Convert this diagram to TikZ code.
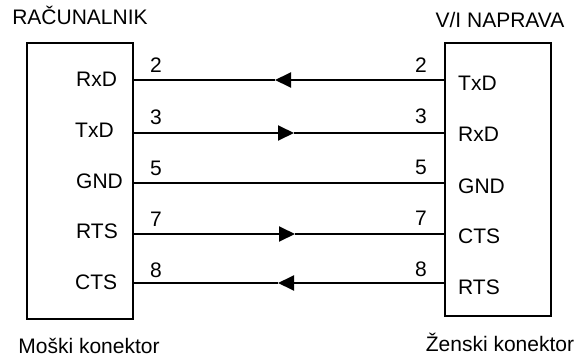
\documentclass[tikz,border=0pt]{standalone}
\usepackage{fontspec}
\setmainfont{Liberation Sans}
\usetikzlibrary{arrows.meta}
\tikzset{>={Triangle[length=16pt,width=15pt]}}
\tikzset{wire/.style={line width=1.9pt}}
\tikzset{box/.style={draw,line width=1.7pt,inner sep=0pt}}
\tikzset{lbl/.style={inner sep=0pt,anchor=base west}}
\tikzset{num/.style={inner sep=0pt,anchor=base}}
\begin{document}
\begin{tikzpicture}[x=1pt,y=-1pt,font=\fontsize{21}{24}\selectfont]
\useasboundingbox (0,0) rectangle (575,356);
\node[box,minimum width=106pt,minimum height=276pt] (pc) at (80,181) {};
\node[box,minimum width=106pt,minimum height=273pt] (dev) at (498,179.5) {};
\node[inner sep=0pt,anchor=base] (pcname) at (80,24.5) {RAČUNALNIK};
\node[inner sep=0pt,anchor=base] (devname) at (500,27.5) {V/I NAPRAVA};
\node[inner sep=0pt,anchor=base] (male) at (89,353) {Moški konektor};
\node[inner sep=0pt,anchor=base] (female) at (500,351) {Ženski konektor};
% left and right pin labels
\foreach \x/\y/\t in {76/86.5/RxD,75/137.5/TxD,76/188.5/GND,76/238.5/RTS,75/289.5/CTS}
\node[lbl] (l\t) at (\x,\y) {\t};
\foreach \x/\y/\t in {458/90.5/TxD,458/141.5/RxD,458/193.5/GND,458/243.5/CTS,458/294.5/RTS}
\node[lbl] (r\t) at (\x,\y) {\t};
% wires
\foreach \n/\y/\ln/\rn in {2/80/72/72,3/133/124/123,5/183/175/174,7/234/226/225,8/283/277/276} {
\coordinate (a\n) at (pc.east |- 0,\y);
\coordinate (b\n) at (dev.west |- 0,\y);
\node[num] (la\n) at (156,\ln) {\n};
\node[num] (ra\n) at (421,\rn) {\n};
}
\coordinate (m2) at (275,80);
\coordinate (m3) at (294,133);
\coordinate (m7) at (295,234);
\coordinate (m8) at (278,283);
\draw[wire] (a5) -- (b5);
\draw[wire,->] (b2) -- (m2);
\draw[wire] (m2) -- (a2);
\draw[wire,->] (a3) -- (m3);
\draw[wire] (m3) -- (b3);
\draw[wire,->] (a7) -- (m7);
\draw[wire] (m7) -- (b7);
\draw[wire,->] (b8) -- (m8);
\draw[wire] (m8) -- (a8);
\end{tikzpicture}
\end{document}
